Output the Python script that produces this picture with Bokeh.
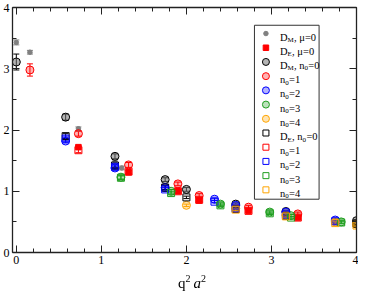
from bokeh.plotting import figure
from bokeh.models import Range1d, LinearAxis, Whisker, TeeHead, ColumnDataSource, FixedTicker, Div, CustomJSTickFormatter
from bokeh.layouts import column
from bokeh.core.properties import value
from bokeh.embed import file_html
from bokeh.resources import INLINE

# ---------------- data ----------------
# D_M, mu=0  (gray dots)
q_DM_mu0 = [0.0, 0.16, 0.73, 1.16, 1.24]
DM_mu0 = [3.43, 3.27, 2.02, 1.48, 1.38]
DM_mu0_err = [0.04, 0.03, 0.03, 0.03, 0.03]
# D_E, mu=0  (red filled squares)
q_DE_mu0 = [0.73, 1.32, 1.90, 2.15, 2.73, 3.31]
DE_mu0 = [1.72, 1.31, 1.00, 0.85, 0.68, 0.57]
DE_mu0_err = [0.03, 0.03, 0.02, 0.02, 0.02, 0.02]

# n0 = 0
q_n0 = [0.0, 0.58, 1.16, 1.75, 2.00, 2.58, 3.17, 4.00]
DM_n0 = [3.11, 2.21, 1.57, 1.19, 1.03, 0.79, 0.67, 0.52]
DM_n0_err = [0.13, 0.05, 0.04, 0.03, 0.03, 0.02, 0.02, 0.02]
qE_n0 = [0.58, 1.16, 1.75, 2.00, 2.58, 3.17, 4.00]
DE_n0 = [1.90, 1.42, 1.06, 0.90, 0.71, 0.60, 0.47]
DE_n0_err = [0.04, 0.03, 0.03, 0.02, 0.02, 0.02, 0.02]
# n0 = 1
q_n1 = [0.16, 0.73, 1.32, 1.90, 2.15, 2.73, 3.31]
DM_n1 = [2.98, 1.94, 1.43, 1.12, 0.93, 0.74, 0.63]
DM_n1_err = [0.10, 0.04, 0.04, 0.03, 0.03, 0.03, 0.03]
qE_n1 = [0.73, 1.32, 1.90, 2.15, 2.73, 3.31]
DE_n1 = [1.67, 1.32, 1.00, 0.86, 0.68, 0.57]
DE_n1_err = [0.04, 0.03, 0.03, 0.02, 0.02, 0.02]
# n0 = 2
q_n2 = [0.58, 1.16, 1.75, 2.33, 2.58, 3.17, 3.75]
DM_n2 = [1.82, 1.38, 1.06, 0.87, 0.77, 0.66, 0.53]
DM_n2_err = [0.03, 0.03, 0.03, 0.02, 0.02, 0.02, 0.02]
DE_n2 = [1.86, 1.40, 1.03, 0.83, 0.72, 0.62, 0.51]
DE_n2_err = [0.04, 0.03, 0.03, 0.02, 0.02, 0.02, 0.02]
# n0 = 3
q_n3 = [1.23, 1.82, 2.40, 2.98, 3.23, 3.82]
DM_n3 = [1.23, 1.00, 0.79, 0.66, 0.60, 0.50]
DM_n3_err = [0.03, 0.03, 0.02, 0.02, 0.02, 0.02]
DE_n3 = [1.22, 0.97, 0.77, 0.64, 0.57, 0.49]
DE_n3_err = [0.03, 0.03, 0.02, 0.02, 0.02, 0.02]
# n0 = 4
q_n4 = [2.00, 2.58, 3.17, 3.75, 4.00]
DM_n4 = [0.77, 0.72, 0.61, 0.50, 0.46]
DM_n4_err = [0.02, 0.02, 0.02, 0.02, 0.02]
qE_n4 = [2.58, 3.17, 3.75, 4.00]
DE_n4 = [0.70, 0.59, 0.48, 0.44]
DE_n4_err = [0.02, 0.02, 0.02, 0.02]

x_ticks = [0, 1, 2, 3, 4]
y_ticks = [0, 1, 2, 3, 4]

# ---------------- figure ----------------
FONT = "Liberation Serif"
p = figure(width=358, height=268, output_backend="svg", toolbar_location=None,
           x_range=Range1d(-0.045, 4.0), y_range=Range1d(0, 4),
           min_border_left=12, min_border_right=2, min_border_top=7, min_border_bottom=16,
           x_axis_location=None, y_axis_location=None)
p.grid.visible = False
p.outline_line_color = None
p.background_fill_color = "white"

x_minor = [i * 0.2 for i in range(0, 21)]
y_minor = [i * 0.5 for i in range(0, 9)]

def style_axis(ax, show_labels):
    ax.axis_line_color = "#222222"
    ax.axis_line_width = 1.3
    ax.major_tick_line_color = "#222222"
    ax.minor_tick_line_color = "#222222"
    ax.major_tick_in = 7
    ax.major_tick_out = 0
    ax.minor_tick_in = 4
    ax.minor_tick_out = 0
    ax.major_label_text_font = FONT
    ax.major_label_text_color = "black"
    ax.major_label_text_font_size = "12px"
    if show_labels:
        ax.major_label_standoff = 3
    else:
        ax.formatter = CustomJSTickFormatter(code="return ''")
        ax.major_label_standoff = 0

for loc, ticks, minor, lab in [("below", x_ticks, x_minor, True), ("above", x_ticks, x_minor, False),
                               ("left", y_ticks, y_minor, True), ("right", y_ticks, y_minor, False)]:
    ax = LinearAxis(ticker=FixedTicker(ticks=ticks, minor_ticks=minor))
    style_axis(ax, lab)
    p.add_layout(ax, loc)

# ---------------- series ----------------
series = [
    (q_DM_mu0, DM_mu0, DM_mu0_err, "circle", "#808080", "#808080", 1.0, 4.5),
    (q_DE_mu0, DE_mu0, DE_mu0_err, "square", "#ff0000", "#ff0000", 1.0, 5.5),
    (q_n0, DM_n0, DM_n0_err, "circle", "#000000", "#777777", 0.55, 8),
    (q_n1, DM_n1, DM_n1_err, "circle", "#ff0000", "#ff0000", 0.3, 8),
    (q_n2, DM_n2, DM_n2_err, "circle", "#0000ff", "#0000ff", 0.3, 8),
    (q_n3, DM_n3, DM_n3_err, "circle", "#1f9e1f", "#1f9e1f", 0.3, 8),
    (q_n4, DM_n4, DM_n4_err, "circle", "#ffa500", "#ffa500", 0.3, 8),
    (qE_n0, DE_n0, DE_n0_err, "square", "#000000", "#000000", 0.0, 7),
    (qE_n1, DE_n1, DE_n1_err, "square", "#ff0000", "#ff0000", 0.0, 7),
    (q_n2, DE_n2, DE_n2_err, "square", "#0000ff", "#0000ff", 0.0, 7),
    (q_n3, DE_n3, DE_n3_err, "square", "#1f9e1f", "#1f9e1f", 0.0, 7),
    (qE_n4, DE_n4, DE_n4_err, "square", "#ffa500", "#ffa500", 0.0, 7),
]

for xs, ys, es, marker, lc, fc, fa, sz in series:
    src = ColumnDataSource(dict(x=xs, y=ys,
                                lo=[a - b for a, b in zip(ys, es)],
                                hi=[a + b for a, b in zip(ys, es)]))
    w = Whisker(source=src, base="x", lower="lo", upper="hi", line_color=lc, line_width=1,
                upper_head=TeeHead(size=6, line_color=lc, line_width=1),
                lower_head=TeeHead(size=6, line_color=lc, line_width=1))
    p.add_layout(w)
    p.scatter("x", "y", source=src, marker=marker, size=sz, line_color=lc,
              fill_color=fc, fill_alpha=fa, line_width=1)

# ---------------- legend (drawn by hand for subscripts) ----------------
box_l, box_r, box_t, box_b = 2.80, 3.56, 3.71, 0.87
p.quad(left=[box_l], right=[box_r], top=[box_t], bottom=[box_b], fill_color="white",
       line_color="#333333", line_width=1, level="overlay")
row_y0, row_dy = 3.575, 0.232
sym_x, txt_x = 2.935, 3.10

legend_rows = [
    [("D", 0), ("M", 1), (", μ=0", 0)],
    [("D", 0), ("E", 1), (", μ=0", 0)],
    [("D", 0), ("M", 1), (", n", 0), ("0", 1), ("=0", 0)],
    [("n", 0), ("0", 1), ("=1", 0)],
    [("n", 0), ("0", 1), ("=2", 0)],
    [("n", 0), ("0", 1), ("=3", 0)],
    [("n", 0), ("0", 1), ("=4", 0)],
    [("D", 0), ("E", 1), (", n", 0), ("0", 1), ("=0", 0)],
    [("n", 0), ("0", 1), ("=1", 0)],
    [("n", 0), ("0", 1), ("=2", 0)],
    [("n", 0), ("0", 1), ("=3", 0)],
    [("n", 0), ("0", 1), ("=4", 0)],
]
W = {"D": 0.722, "M": 0.889, "E": 0.611, "n": 0.5, ",": 0.25, " ": 0.25, "μ": 0.576, "=": 0.564}
FS, FS_SUB = 10.5, 7

def tw(s, fs):
    return sum(W.get(c, 0.5) for c in s) * fs

main_t = dict(x=[], y=[], t=[], xo=[])
sub_t = dict(x=[], y=[], t=[], xo=[])
lx, ly, lm, llc, lfc, lfa, lsz = [], [], [], [], [], [], []
for i, (row, ser) in enumerate(zip(legend_rows, series)):
    y = row_y0 - i * row_dy
    off = 0.0
    for s, sub in row:
        d = sub_t if sub else main_t
        d["x"].append(txt_x); d["y"].append(y); d["t"].append(s); d["xo"].append(off)
        off += tw(s, FS_SUB if sub else FS) + (0.3 if sub else 0.0)
    _, _, _, marker, lc, fc, fa, sz = ser
    lx.append(sym_x); ly.append(y); lm.append(marker); llc.append(lc); lfc.append(fc)
    lfa.append(fa); lsz.append(sz - 1 if sz > 6 else sz)

lsrc = ColumnDataSource(dict(x=lx, y=ly, m=lm, lc=llc, fc=lfc, fa=lfa, sz=lsz))
p.scatter("x", "y", source=lsrc, marker="m", size="sz", line_color="lc", fill_color="fc",
          fill_alpha="fa", line_width=1, level="overlay")
p.text("x", "y", text="t", source=ColumnDataSource(main_t), x_offset="xo", y_offset=3.5,
       text_font_size=f"{FS}px", text_font=value(FONT), text_color="black",
       text_baseline="alphabetic", text_align="left", level="overlay")
p.text("x", "y", text="t", source=ColumnDataSource(sub_t), x_offset="xo", y_offset=6.5,
       text_font_size=f"{FS_SUB}px", text_font=value(FONT), text_color="black",
       text_baseline="alphabetic", text_align="left", level="overlay")

# ---------------- x axis label  q^2 a^2 ----------------
xlabel = Div(
    text=('<div style="position:fixed; left:178px; top:271px; white-space:nowrap; '
          'font-family:\'Liberation Serif\'; font-size:15px; line-height:15px; color:black;">'
          'q<sup style="font-size:10px;">2</sup>&thinsp;<i>a</i><sup style="font-size:10px;">2</sup></div>'),
    width=358, height=8, styles={"overflow": "visible"})

open("out.html", "w").write(file_html(column(p, xlabel), INLINE))
